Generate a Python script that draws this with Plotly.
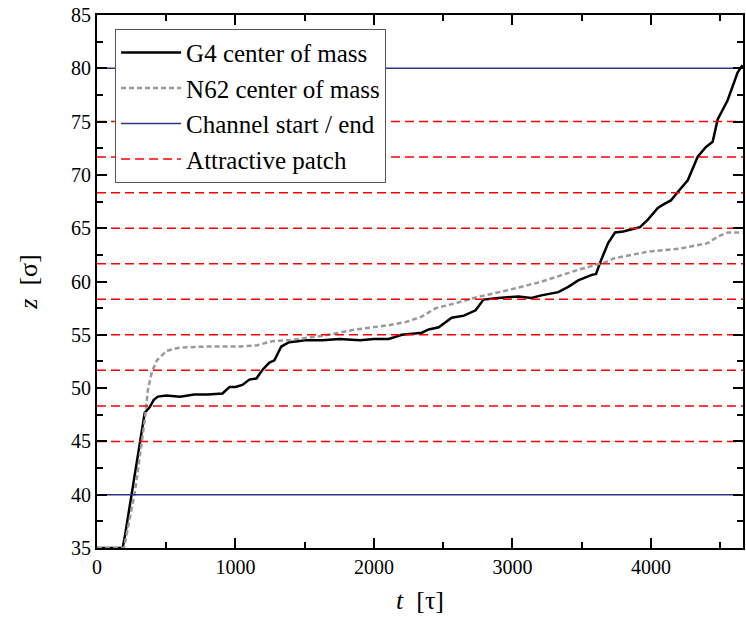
import plotly.graph_objects as go

# ---- data ----
g4_t = [0, 185, 200, 250, 300, 345, 380, 410, 440, 500, 600, 700, 800, 906, 957, 1000,
        1050, 1100, 1151, 1194, 1245, 1281, 1331, 1388, 1450, 1511, 1626, 1750, 1900,
        2000, 2108, 2201, 2280, 2345, 2396, 2468, 2561, 2650, 2734, 2791, 2899, 3043,
        3137, 3209, 3331, 3403, 3475, 3568, 3604, 3640, 3691, 3741, 3800, 3856, 3921,
        3978, 4050, 4100, 4144, 4194, 4266, 4338, 4396, 4446, 4482, 4554, 4604, 4626, 4662]
g4_z = [35.0, 35.0, 36.0, 40.0, 44.2, 47.7, 48.2, 48.9, 49.2, 49.3, 49.2, 49.4, 49.4, 49.5,
        50.1, 50.1, 50.3, 50.8, 50.9, 51.7, 52.4, 52.6, 53.9, 54.3, 54.4, 54.5, 54.5, 54.6,
        54.5, 54.6, 54.6, 55.0, 55.1, 55.2, 55.5, 55.7, 56.6, 56.8, 57.3, 58.3, 58.45, 58.6,
        58.45, 58.7, 59.0, 59.5, 60.1, 60.6, 60.7, 62.0, 63.6, 64.6, 64.7, 64.9, 65.1, 65.8,
        66.9, 67.3, 67.6, 68.4, 69.5, 71.7, 72.6, 73.1, 75.2, 77.0, 78.9, 79.6, 80.3]

n62_t = [0, 195, 273, 345, 367, 396, 432, 504, 597, 791, 1029, 1151, 1266, 1388, 1626,
         1870, 2108, 2230, 2345, 2446, 2600, 2734, 2971, 3187, 3309, 3475, 3669, 3741,
         3978, 4216, 4410, 4482, 4554, 4662]
n62_z = [35.0, 35.0, 40.2, 47.0, 49.8, 51.5, 52.6, 53.5, 53.8, 53.9, 53.9, 54.0, 54.4,
         54.5, 54.9, 55.5, 55.9, 56.2, 56.7, 57.5, 58.0, 58.5, 59.2, 59.9, 60.4, 61.1,
         61.8, 62.2, 62.8, 63.1, 63.6, 64.2, 64.6, 64.6]

channel_z = [40, 80]
patch_z = [45, 48.33, 51.67, 55, 58.33, 61.67, 65, 68.33, 71.67, 75]

x_range = [0, 4665]
y_range = [35, 85]
x_ticks = [0, 1000, 2000, 3000, 4000]
y_ticks = [35, 40, 45, 50, 55, 60, 65, 70, 75, 80, 85]


def hlines(levels):
    xs, ys = [], []
    for v in levels:
        xs += [x_range[0], x_range[1], None]
        ys += [v, v, None]
    return xs, ys


FONT = "Liberation Serif"

fig = go.Figure()
fig.add_trace(go.Scatter(x=g4_t, y=g4_z, mode="lines", name="G4 center of mass",
                         line=dict(color="black", width=2.5)))
fig.add_trace(go.Scatter(x=n62_t, y=n62_z, mode="lines", name="N62 center of mass",
                         line=dict(color="#9a9a9a", width=2.5, dash="5px,3px")))
cx, cy = hlines(channel_z)
fig.add_trace(go.Scatter(x=cx, y=cy, mode="lines", name="Channel start / end",
                         line=dict(color="#33338f", width=1.5)))
px_, py_ = hlines(patch_z)
fig.add_trace(go.Scatter(x=px_, y=py_, mode="lines", name="Attractive patch",
                         line=dict(color="#ff0000", width=1.5, dash="9px,5px")))

axis_common = dict(
    showgrid=False, zeroline=False, showline=True, linecolor="black", linewidth=2,
    mirror="ticks", ticks="inside", ticklen=10, tickwidth=2, tickcolor="black",
    tickfont=dict(family=FONT, size=20),
)

fig.update_xaxes(range=x_range, tickvals=x_ticks,
                 minor=dict(dtick=500, ticks="inside", ticklen=6, tickwidth=2, tickcolor="black"),
                 title=dict(text="<i>t</i>  [τ]", font=dict(family=FONT, size=26),
                            standoff=14),
                 **axis_common)
fig.update_yaxes(range=y_range, tickvals=y_ticks,
                 minor=dict(dtick=2.5, ticks="inside", ticklen=6, tickwidth=2, tickcolor="black"),
                 title=dict(text="<i>z</i>  [σ]", font=dict(family=FONT, size=26),
                            standoff=26),
                 **axis_common)

fig.update_layout(
    width=746, height=620,
    font=dict(family=FONT, color="black"),
    margin=dict(l=97, r=1, t=15, b=72),
    paper_bgcolor="white", plot_bgcolor="white",
    showlegend=True,
    legend=dict(x=0.028, y=0.974, xanchor="left", yanchor="top",
                bgcolor="white", bordercolor="#555555", borderwidth=1,
                itemwidth=60,
                font=dict(family=FONT, size=25)),
)

fig.write_html("out.html")
